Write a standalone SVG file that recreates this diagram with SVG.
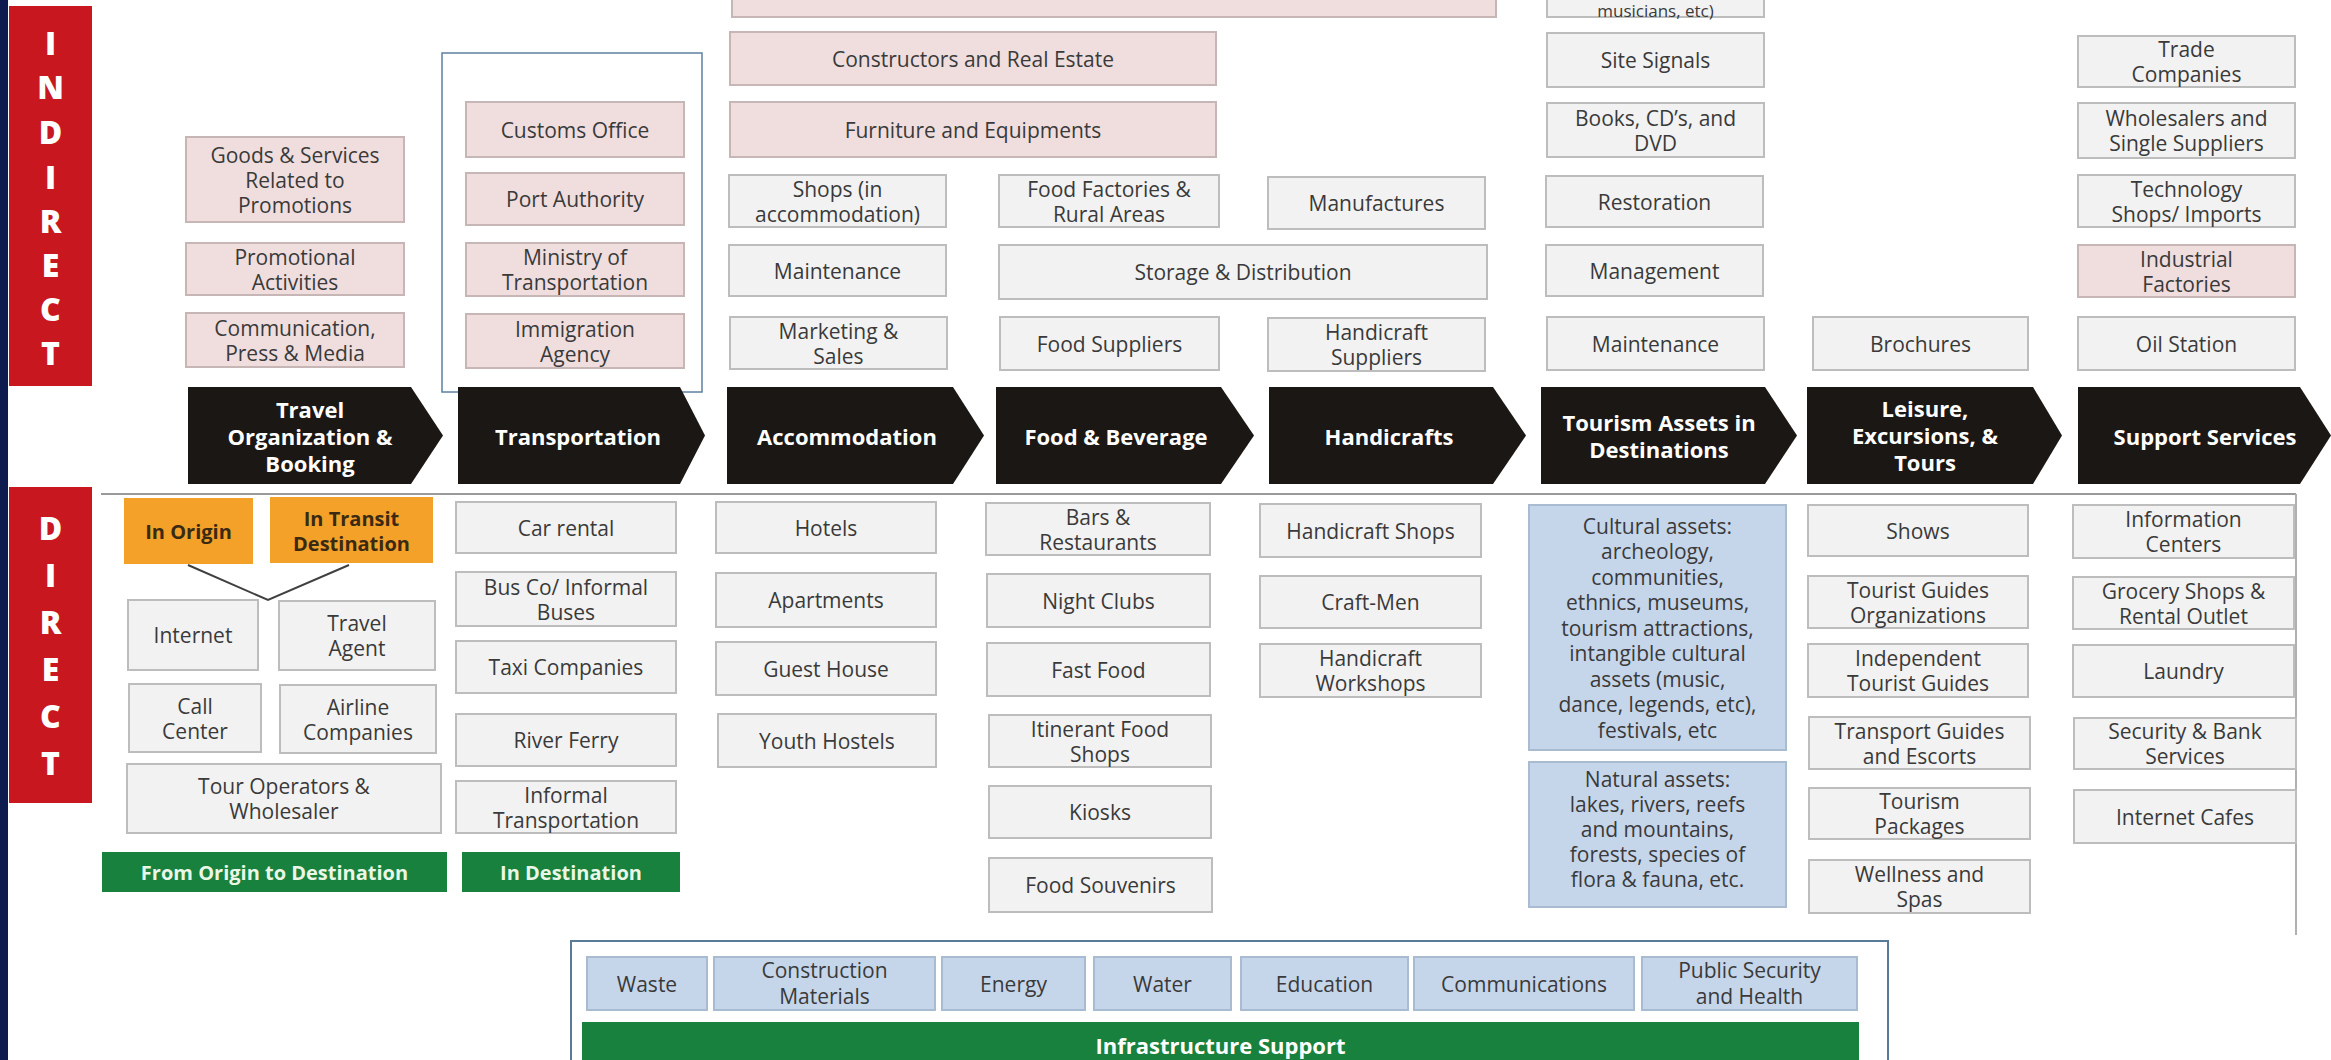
<svg xmlns="http://www.w3.org/2000/svg" width="2331" height="1060" viewBox="0 0 2331 1060">
<style>
.g rect{fill:#f2f2f2;stroke:#bdbdbd;stroke-width:2}
.p rect{fill:#f0dede;stroke:#c6b6b6;stroke-width:2}
.b rect{fill:#c6d6ea;stroke:#a9bbd0;stroke-width:2}
.o rect{fill:#f4a12a;stroke:none}
.gr rect{fill:#17813d;stroke:none}
.ch polygon{fill:#1b1714}
text{font-family:"Open Sans","Liberation Sans",sans-serif;text-anchor:middle;dominant-baseline:central}
.t{font-size:21px;fill:#3a3a3a}
.c{font-size:22px;font-weight:700;fill:#ffffff}
.ot{font-size:20px;font-weight:700;fill:#3b2a12}
.gt{font-size:20px;font-weight:700;fill:#eaf7e6}
.L{font-size:32px;font-weight:800;fill:#ffffff}
</style>
<rect x="0" y="0" width="2331" height="1060" fill="#ffffff"/>
<rect x="0" y="0" width="8" height="1060" fill="#0d1b4e"/>

<g id="indirect-label">
<rect x="9" y="6" width="83" height="380" fill="#c8171f"/>
<text class="L"><tspan x="50.5" y="42">I</tspan><tspan x="50.5" y="86">N</tspan><tspan x="50.5" y="131">D</tspan><tspan x="50.5" y="176">I</tspan><tspan x="50.5" y="220">R</tspan><tspan x="50.5" y="264">E</tspan><tspan x="50.5" y="308">C</tspan><tspan x="50.5" y="352">T</tspan></text>
</g>
<g id="direct-label">
<rect x="9" y="487" width="83" height="316" fill="#c8171f"/>
<text class="L"><tspan x="50.5" y="527">D</tspan><tspan x="50.5" y="574">I</tspan><tspan x="50.5" y="621">R</tspan><tspan x="50.5" y="668">E</tspan><tspan x="50.5" y="715">C</tspan><tspan x="50.5" y="762">T</tspan></text>
</g>

<g id="frames" fill="none">
<rect x="442" y="53" width="260" height="339" stroke="#5f80a2" stroke-width="1.5"/>
<rect x="571" y="941" width="1317" height="140" stroke="#5a7a9a" stroke-width="2"/>
<line x1="101" y1="494" x2="2296" y2="494" stroke="#9a9a9a" stroke-width="2"/>
<line x1="2296" y1="494" x2="2296" y2="935" stroke="#b0b0b0" stroke-width="2"/>
</g>

<g id="connectors">
<polyline points="188,565 268,600 349,565" fill="none" stroke="#404040" stroke-width="2"/>
</g>

<!-- INDIRECT column 1 -->
<g id="goods" class="p"><rect x="186" y="137" width="218" height="85"/><text class="t"><tspan x="295" y="154.5">Goods &amp; Services</tspan><tspan x="295" y="179.5">Related to</tspan><tspan x="295" y="204.5">Promotions</tspan></text></g>
<g id="promo" class="p"><rect x="186" y="243" width="218" height="52"/><text class="t"><tspan x="295" y="256.5">Promotional</tspan><tspan x="295" y="281.5">Activities</tspan></text></g>
<g id="comm" class="p"><rect x="186" y="313" width="218" height="54"/><text class="t"><tspan x="295" y="327.5">Communication,</tspan><tspan x="295" y="352.5">Press &amp; Media</tspan></text></g>
<!-- column 2 -->
<g id="customs" class="p"><rect x="466" y="102" width="218" height="55"/><text class="t" x="575" y="129.5">Customs Office</text></g>
<g id="port" class="p"><rect x="466" y="173" width="218" height="52"/><text class="t" x="575" y="199">Port Authority</text></g>
<g id="ministry" class="p"><rect x="466" y="243" width="218" height="53"/><text class="t"><tspan x="575" y="257">Ministry of</tspan><tspan x="575" y="282">Transportation</tspan></text></g>
<g id="immigration" class="p"><rect x="466" y="314" width="218" height="54"/><text class="t"><tspan x="575" y="328.5">Immigration</tspan><tspan x="575" y="353.5">Agency</tspan></text></g>
<!-- column 3-5 -->
<g id="topbox" class="p"><rect x="732" y="-6" width="764" height="23"/></g>
<g id="constructors" class="p"><rect x="730" y="32" width="486" height="53"/><text class="t" x="973" y="58.5">Constructors and Real Estate</text></g>
<g id="furniture" class="p"><rect x="730" y="102" width="486" height="55"/><text class="t" x="973" y="129.5">Furniture and Equipments</text></g>
<g id="shops" class="g"><rect x="729" y="175" width="217" height="52"/><text class="t"><tspan x="837.5" y="188.5">Shops (in</tspan><tspan x="837.5" y="213.5">accommodation)</tspan></text></g>
<g id="maint1" class="g"><rect x="729" y="245" width="217" height="51"/><text class="t" x="837.5" y="270.5">Maintenance</text></g>
<g id="marketing" class="g"><rect x="730" y="317" width="217" height="52"/><text class="t"><tspan x="838.5" y="330.5">Marketing &amp;</tspan><tspan x="838.5" y="355.5">Sales</tspan></text></g>
<g id="foodfact" class="g"><rect x="999" y="175" width="220" height="52"/><text class="t"><tspan x="1109" y="188.5">Food Factories &amp;</tspan><tspan x="1109" y="213.5">Rural Areas</tspan></text></g>
<g id="storage" class="g"><rect x="999" y="245" width="488" height="54"/><text class="t" x="1243" y="272">Storage &amp; Distribution</text></g>
<g id="foodsup" class="g"><rect x="1000" y="317" width="219" height="53"/><text class="t" x="1109.5" y="343.5">Food Suppliers</text></g>
<g id="manuf" class="g"><rect x="1268" y="177" width="217" height="52"/><text class="t" x="1376.5" y="203">Manufactures</text></g>
<g id="handsup" class="g"><rect x="1268" y="318" width="217" height="53"/><text class="t"><tspan x="1376.5" y="332">Handicraft</tspan><tspan x="1376.5" y="357">Suppliers</tspan></text></g>
<!-- column 6 -->
<g id="musicians" class="g"><rect x="1547" y="-6" width="217" height="23"/><text class="t" x="1655.5" y="10" style="font-size:17px">musicians, etc)</text></g>
<g id="site" class="g"><rect x="1547" y="33" width="217" height="54"/><text class="t" x="1655.5" y="60">Site Signals</text></g>
<g id="books" class="g"><rect x="1547" y="103" width="217" height="54"/><text class="t"><tspan x="1655.5" y="117.5">Books, CD’s, and</tspan><tspan x="1655.5" y="142.5">DVD</tspan></text></g>
<g id="restoration" class="g"><rect x="1546" y="176" width="217" height="51"/><text class="t" x="1654.5" y="201.5">Restoration</text></g>
<g id="management" class="g"><rect x="1546" y="245" width="217" height="51"/><text class="t" x="1654.5" y="270.5">Management</text></g>
<g id="maint2" class="g"><rect x="1547" y="317" width="217" height="53"/><text class="t" x="1655.5" y="343.5">Maintenance</text></g>
<g id="brochures" class="g"><rect x="1813" y="317" width="215" height="53"/><text class="t" x="1920.5" y="343.5">Brochures</text></g>
<!-- column 8 -->
<g id="trade" class="g"><rect x="2078" y="36" width="217" height="51"/><text class="t"><tspan x="2186.5" y="49">Trade</tspan><tspan x="2186.5" y="74">Companies</tspan></text></g>
<g id="wholesalers" class="g"><rect x="2078" y="103" width="217" height="55"/><text class="t"><tspan x="2186.5" y="118">Wholesalers and</tspan><tspan x="2186.5" y="143">Single Suppliers</tspan></text></g>
<g id="technology" class="g"><rect x="2078" y="175" width="217" height="52"/><text class="t"><tspan x="2186.5" y="188.5">Technology</tspan><tspan x="2186.5" y="213.5">Shops/ Imports</tspan></text></g>
<g id="industrial" class="p"><rect x="2078" y="245" width="217" height="52"/><text class="t"><tspan x="2186.5" y="258.5">Industrial</tspan><tspan x="2186.5" y="283.5">Factories</tspan></text></g>
<g id="oil" class="g"><rect x="2078" y="317" width="217" height="53"/><text class="t" x="2186.5" y="343.5">Oil Station</text></g>

<!-- chevrons -->
<g id="ch-travel" class="ch"><polygon points="188,387 411,387 443,435.5 411,484 188,484"/><text class="c"><tspan x="310" y="409">Travel</tspan><tspan x="310" y="436">Organization &amp;</tspan><tspan x="310" y="463">Booking</tspan></text></g>
<g id="ch-transport" class="ch"><polygon points="458,387 680,387 705,435.5 680,484 458,484"/><text class="c" x="578" y="435.5">Transportation</text></g>
<g id="ch-accom" class="ch"><polygon points="727,387 953,387 984,435.5 953,484 727,484"/><text class="c" x="847" y="435.5">Accommodation</text></g>
<g id="ch-food" class="ch"><polygon points="996,387 1221,387 1254,435.5 1221,484 996,484"/><text class="c" x="1116" y="435.5">Food &amp; Beverage</text></g>
<g id="ch-handi" class="ch"><polygon points="1269,387 1493,387 1526,435.5 1493,484 1269,484"/><text class="c" x="1389" y="435.5">Handicrafts</text></g>
<g id="ch-tourism" class="ch"><polygon points="1541,387 1765,387 1797,435.5 1765,484 1541,484"/><text class="c"><tspan x="1659" y="422">Tourism Assets in</tspan><tspan x="1659" y="449">Destinations</tspan></text></g>
<g id="ch-leisure" class="ch"><polygon points="1807,387 2033,387 2062,435.5 2033,484 1807,484"/><text class="c"><tspan x="1925" y="408">Leisure,</tspan><tspan x="1925" y="435">Excursions, &amp;</tspan><tspan x="1925" y="462">Tours</tspan></text></g>
<g id="ch-support" class="ch"><polygon points="2078,387 2300,387 2331,435.5 2300,484 2078,484"/><text class="c" x="2205" y="435.5">Support Services</text></g>

<!-- DIRECT column 1 -->
<g id="inorigin" class="o"><rect x="124" y="498" width="129" height="66"/><text class="ot" x="188.5" y="531">In Origin</text></g>
<g id="intransit" class="o"><rect x="270" y="497" width="163" height="66"/><text class="ot"><tspan x="351.5" y="517.5">In Transit</tspan><tspan x="351.5" y="542.5">Destination</tspan></text></g>
<g id="internet" class="g"><rect x="128" y="600" width="130" height="70"/><text class="t" x="193" y="635">Internet</text></g>
<g id="travelagent" class="g"><rect x="279" y="601" width="156" height="69"/><text class="t"><tspan x="357" y="623">Travel</tspan><tspan x="357" y="648">Agent</tspan></text></g>
<g id="callcenter" class="g"><rect x="129" y="684" width="132" height="68"/><text class="t"><tspan x="195" y="705.5">Call</tspan><tspan x="195" y="730.5">Center</tspan></text></g>
<g id="airline" class="g"><rect x="280" y="685" width="156" height="68"/><text class="t"><tspan x="358" y="706.5">Airline</tspan><tspan x="358" y="731.5">Companies</tspan></text></g>
<g id="tourops" class="g"><rect x="127" y="764" width="314" height="69"/><text class="t"><tspan x="284" y="786">Tour Operators &amp;</tspan><tspan x="284" y="811">Wholesaler</tspan></text></g>
<g id="origin-dest" class="gr"><rect x="102" y="852" width="345" height="40"/><text class="gt" x="274.5" y="872">From Origin to Destination</text></g>
<!-- column 2 -->
<g id="carrental" class="g"><rect x="456" y="502" width="220" height="51"/><text class="t" x="566" y="527.5">Car rental</text></g>
<g id="busco" class="g"><rect x="456" y="572" width="220" height="54"/><text class="t"><tspan x="566" y="586.5">Bus Co/ Informal</tspan><tspan x="566" y="611.5">Buses</tspan></text></g>
<g id="taxi" class="g"><rect x="456" y="641" width="220" height="52"/><text class="t" x="566" y="667">Taxi Companies</text></g>
<g id="river" class="g"><rect x="456" y="714" width="220" height="52"/><text class="t" x="566" y="740">River Ferry</text></g>
<g id="informal" class="g"><rect x="456" y="781" width="220" height="52"/><text class="t"><tspan x="566" y="794.5">Informal</tspan><tspan x="566" y="819.5">Transportation</tspan></text></g>
<g id="in-dest" class="gr"><rect x="462" y="852" width="218" height="40"/><text class="gt" x="571" y="872">In Destination</text></g>
<!-- column 3 -->
<g id="hotels" class="g"><rect x="716" y="502" width="220" height="51"/><text class="t" x="826" y="527.5">Hotels</text></g>
<g id="apartments" class="g"><rect x="716" y="573" width="220" height="54"/><text class="t" x="826" y="600">Apartments</text></g>
<g id="guesthouse" class="g"><rect x="716" y="642" width="220" height="53"/><text class="t" x="826" y="668.5">Guest House</text></g>
<g id="youth" class="g"><rect x="718" y="714" width="218" height="53"/><text class="t" x="827" y="740.5">Youth Hostels</text></g>
<!-- column 4 -->
<g id="bars" class="g"><rect x="986" y="503" width="224" height="52"/><text class="t"><tspan x="1098" y="516.5">Bars &amp;</tspan><tspan x="1098" y="541.5">Restaurants</tspan></text></g>
<g id="night" class="g"><rect x="987" y="574" width="223" height="53"/><text class="t" x="1098.5" y="600.5">Night Clubs</text></g>
<g id="fastfood" class="g"><rect x="987" y="643" width="223" height="53"/><text class="t" x="1098.5" y="669.5">Fast Food</text></g>
<g id="itinerant" class="g"><rect x="989" y="715" width="222" height="52"/><text class="t"><tspan x="1100" y="728.5">Itinerant Food</tspan><tspan x="1100" y="753.5">Shops</tspan></text></g>
<g id="kiosks" class="g"><rect x="989" y="786" width="222" height="52"/><text class="t" x="1100" y="812">Kiosks</text></g>
<g id="souvenirs" class="g"><rect x="989" y="858" width="223" height="54"/><text class="t" x="1100.5" y="885">Food Souvenirs</text></g>
<!-- column 5 -->
<g id="handshops" class="g"><rect x="1260" y="504" width="221" height="53"/><text class="t" x="1370.5" y="530.5">Handicraft Shops</text></g>
<g id="craftmen" class="g"><rect x="1260" y="576" width="221" height="52"/><text class="t" x="1370.5" y="602">Craft-Men</text></g>
<g id="workshops" class="g"><rect x="1260" y="644" width="221" height="53"/><text class="t"><tspan x="1370.5" y="658">Handicraft</tspan><tspan x="1370.5" y="683">Workshops</tspan></text></g>
<!-- column 6 -->
<g id="cultural" class="b"><rect x="1529" y="505" width="257" height="245"/><text class="t"><tspan x="1657.5" y="525.5">Cultural assets:</tspan><tspan x="1657.5" y="551">archeology,</tspan><tspan x="1657.5" y="576.5">communities,</tspan><tspan x="1657.5" y="602">ethnics, museums,</tspan><tspan x="1657.5" y="627.5">tourism attractions,</tspan><tspan x="1657.5" y="653">intangible cultural</tspan><tspan x="1657.5" y="678.5">assets (music,</tspan><tspan x="1657.5" y="704">dance, legends, etc),</tspan><tspan x="1657.5" y="729.5">festivals, etc</tspan></text></g>
<g id="natural" class="b"><rect x="1529" y="762" width="257" height="145"/><text class="t"><tspan x="1657.5" y="779">Natural assets:</tspan><tspan x="1657.5" y="804">lakes, rivers, reefs</tspan><tspan x="1657.5" y="829">and mountains,</tspan><tspan x="1657.5" y="854">forests, species of</tspan><tspan x="1657.5" y="879">flora &amp; fauna, etc.</tspan></text></g>
<!-- column 7 -->
<g id="shows" class="g"><rect x="1808" y="505" width="220" height="51"/><text class="t" x="1918" y="530.5">Shows</text></g>
<g id="tgorg" class="g"><rect x="1808" y="576" width="220" height="52"/><text class="t"><tspan x="1918" y="589.5">Tourist Guides</tspan><tspan x="1918" y="614.5">Organizations</tspan></text></g>
<g id="indep" class="g"><rect x="1808" y="644" width="220" height="53"/><text class="t"><tspan x="1918" y="658">Independent</tspan><tspan x="1918" y="683">Tourist Guides</tspan></text></g>
<g id="transguides" class="g"><rect x="1809" y="717" width="221" height="52"/><text class="t"><tspan x="1919.5" y="730.5">Transport Guides</tspan><tspan x="1919.5" y="755.5">and Escorts</tspan></text></g>
<g id="tourpack" class="g"><rect x="1809" y="788" width="221" height="51"/><text class="t"><tspan x="1919.5" y="801">Tourism</tspan><tspan x="1919.5" y="826">Packages</tspan></text></g>
<g id="wellness" class="g"><rect x="1809" y="860" width="221" height="53"/><text class="t"><tspan x="1919.5" y="874">Wellness and</tspan><tspan x="1919.5" y="899">Spas</tspan></text></g>
<!-- column 8 -->
<g id="infocenters" class="g"><rect x="2073" y="505" width="221" height="53"/><text class="t"><tspan x="2183.5" y="519">Information</tspan><tspan x="2183.5" y="544">Centers</tspan></text></g>
<g id="grocery" class="g"><rect x="2073" y="577" width="221" height="52"/><text class="t"><tspan x="2183.5" y="590.5">Grocery Shops &amp;</tspan><tspan x="2183.5" y="615.5">Rental Outlet</tspan></text></g>
<g id="laundry" class="g"><rect x="2073" y="645" width="221" height="52"/><text class="t" x="2183.5" y="671">Laundry</text></g>
<g id="security" class="g"><rect x="2074" y="718" width="222" height="51"/><text class="t"><tspan x="2185" y="731">Security &amp; Bank</tspan><tspan x="2185" y="756">Services</tspan></text></g>
<g id="internetcafes" class="g"><rect x="2074" y="790" width="222" height="53"/><text class="t" x="2185" y="816.5">Internet Cafes</text></g>

<!-- infrastructure -->
<g id="waste" class="b"><rect x="587" y="957" width="120" height="53"/><text class="t" x="647" y="983.5">Waste</text></g>
<g id="constmat" class="b"><rect x="714" y="957" width="221" height="53"/><text class="t"><tspan x="824.5" y="970">Construction</tspan><tspan x="824.5" y="996">Materials</tspan></text></g>
<g id="energy" class="b"><rect x="942" y="957" width="143" height="53"/><text class="t" x="1013.5" y="983.5">Energy</text></g>
<g id="water" class="b"><rect x="1094" y="957" width="137" height="53"/><text class="t" x="1162.5" y="983.5">Water</text></g>
<g id="education" class="b"><rect x="1241" y="957" width="167" height="53"/><text class="t" x="1324.5" y="983.5">Education</text></g>
<g id="communications" class="b"><rect x="1414" y="957" width="220" height="53"/><text class="t" x="1524" y="983.5">Communications</text></g>
<g id="publicsec" class="b"><rect x="1642" y="957" width="215" height="53"/><text class="t"><tspan x="1749.5" y="970">Public Security</tspan><tspan x="1749.5" y="996">and Health</tspan></text></g>
<g id="infra" class="gr"><rect x="582" y="1022" width="1277" height="45"/><text class="gt" x="1220.5" y="1045" style="font-size:22px;fill:#ffffff">Infrastructure Support</text></g>
</svg>
